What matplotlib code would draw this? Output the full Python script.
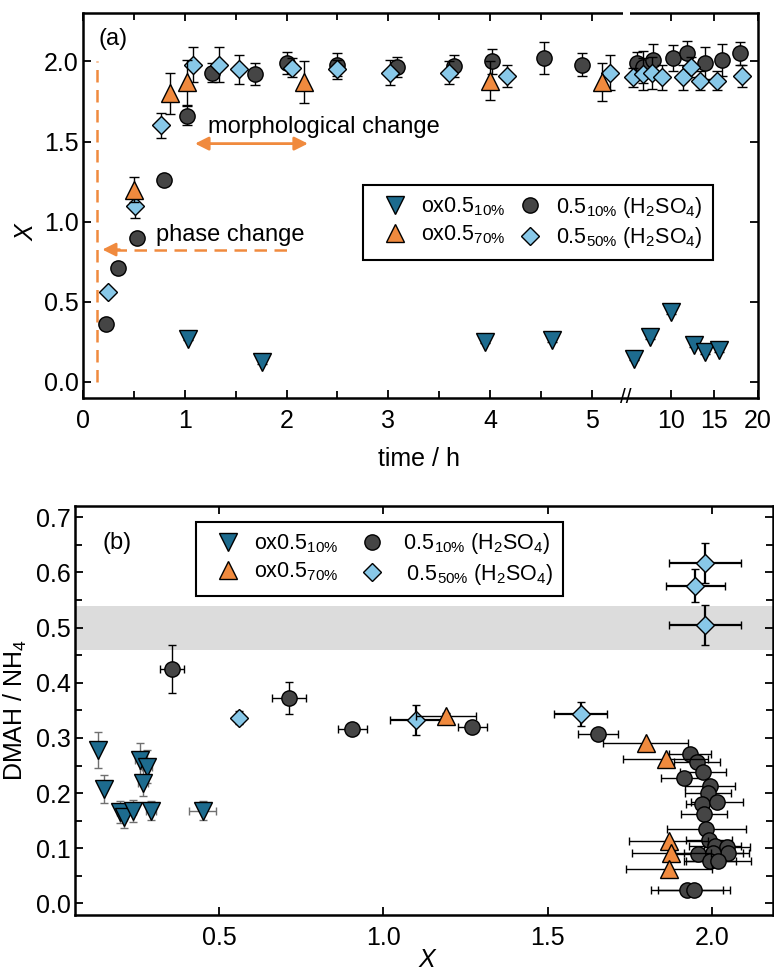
import numpy as np
import matplotlib
matplotlib.use('Agg')
import matplotlib.pyplot as plt
from matplotlib import transforms
from matplotlib.ticker import FixedLocator, MultipleLocator, FormatStrFormatter

plt.rcParams['font.family'] = ['Liberation Sans', 'DejaVu Sans']
plt.rcParams['mathtext.fontset'] = 'custom'
plt.rcParams['mathtext.rm'] = 'Liberation Sans'
plt.rcParams['mathtext.it'] = 'Liberation Sans:italic'
plt.rcParams['mathtext.default'] = 'regular'

# ---------------- colours ----------------
C_DN = '#1d6b8e'
C_OR = '#f08a3e'
C_CI = '#454545'
C_DI = '#88c8e8'

# ---------------- panel (a) data: time / h vs X ----------------
circ_t = [0.23, 0.34, 0.53, 0.80, 1.02, 1.27, 1.69, 2.00, 2.50, 3.08, 3.64, 4.02, 4.53, 4.90,
          6.16, 6.85, 7.93, 10.3, 11.84, 14.0, 15.95, 18.0]
circ_x = [0.36, 0.71, 0.90, 1.26, 1.66, 1.93, 1.92, 1.99, 1.98, 1.965, 1.97, 2.00, 2.02, 1.98,
          1.99, 1.965, 2.01, 2.02, 2.05, 1.99, 2.01, 2.05]
circ_e = [0, 0, 0, 0, 0.06, 0.06, 0.07, 0.07, 0.07, 0.06, 0.07, 0.08, 0.10, 0.07,
          0.07, 0.10, 0.10, 0.08, 0.08, 0.10, 0.10, 0.07]

dia_t = [0.25, 0.51, 0.77, 1.08, 1.34, 1.53, 2.05, 2.50, 3.02, 3.60, 4.17, 5.18,
         5.70, 6.85, 7.82, 8.97, 11.38, 12.3, 13.37, 15.3, 18.17]
dia_x = [0.56, 1.10, 1.60, 1.98, 1.98, 1.95, 1.96, 1.95, 1.93, 1.93, 1.91, 1.93,
         1.90, 1.92, 1.93, 1.90, 1.90, 1.965, 1.88, 1.88, 1.91]
dia_e = [0, 0.08, 0.08, 0.11, 0.11, 0.09, 0.06, 0.06, 0.08, 0.07, 0.07, 0.11,
         0.06, 0.10, 0.10, 0.08, 0.08, 0.06, 0.06, 0.06, 0.07]

up_t = [0.50, 0.85, 1.02, 2.17, 4.00, 5.10]
up_x = [1.20, 1.80, 1.87, 1.87, 1.88, 1.87]
up_e = [0.08, 0.13, 0.14, 0.13, 0.12, 0.12]

dn_t = [1.03, 1.76, 3.95, 4.61, 5.83, 7.62, 10.03, 12.7, 14.0, 15.6]
dn_x = [0.27, 0.125, 0.25, 0.26, 0.146, 0.28, 0.437, 0.229, 0.187, 0.198]
dn_e = [0.01] * 10

t_ticks = [0, 1, 2, 3, 4, 5, 10, 15, 20]
t_minor = [0.5, 1.5, 2.5, 3.5, 4.5]

# ---------------- panel (b) data: X vs DMAH/NH4 ----------------
bc_x = [0.358, 0.713, 0.906, 1.271, 1.654, 1.933, 1.954, 1.974, 1.916, 1.994, 1.989, 1.971, 2.015,
        1.975, 1.983, 1.99, 2.01, 2.045, 2.048, 1.959, 2.004, 1.994, 2.02, 1.925, 1.946]
bc_r = [0.425, 0.372, 0.317, 0.319, 0.308, 0.271, 0.257, 0.239, 0.228, 0.213, 0.20, 0.180, 0.183,
        0.163, 0.134, 0.115, 0.104, 0.102, 0.091, 0.089, 0.091, 0.077, 0.077, 0.025, 0.025]
bc_xe = [0.037, 0.053, 0.045, 0.045, 0.06, 0.065, 0.07, 0.07, 0.07, 0.075, 0.07, 0.05, 0.08,
         0.07, 0.12, 0.07, 0.08, 0.07, 0.065, 0.07, 0.09, 0.08, 0.10, 0.11, 0.11]
bc_re = [0.044, 0.029, 0.01, 0.004, 0.004] + [0] * 20

bd_x = [0.56, 1.099, 1.601, 1.979, 1.949, 1.979]
bd_r = [0.337, 0.332, 0.343, 0.617, 0.576, 0.505]
bd_xe = [0.01, 0.08, 0.08, 0.11, 0.09, 0.11]
bd_re = [0.012, 0.027, 0.022, 0.037, 0.03, 0.036]

bu_x = [1.191, 1.798, 1.859, 1.869, 1.876, 1.869]
bu_r = [0.340, 0.290, 0.261, 0.113, 0.092, 0.063]
bu_xe = [0.09, 0.13, 0.13, 0.12, 0.12, 0.13]
bu_re = [0.005, 0, 0, 0, 0, 0]

bn_x = [0.131, 0.151, 0.199, 0.211, 0.239, 0.26, 0.282, 0.27, 0.293, 0.45]
bn_r = [0.278, 0.207, 0.166, 0.157, 0.168, 0.26, 0.248, 0.219, 0.168, 0.168]
bn_xe = [0, 0, 0.01, 0.01, 0.01, 0.015, 0.015, 0.015, 0.015, 0.04]
bn_re = [0.033, 0.025, 0.02, 0.02, 0.02, 0.03, 0.03, 0.025, 0.017, 0.017]

labels = [r'ox0.5$_{10\%}$', r'ox0.5$_{70\%}$',
          r'0.5$_{10\%}$ (H$_2$SO$_4$)', r'0.5$_{50\%}$ (H$_2$SO$_4$)']
labels_b = [r'ox0.5$_{10\%}$', r'ox0.5$_{70\%}$',
            r' 0.5$_{10\%}$ (H$_2$SO$_4$)', r' $\,$0.5$_{50\%}$ (H$_2$SO$_4$)']

# ---------------- broken time scale ----------------
T_BRK = 5.33
U10 = 5.773
K = 0.0855


def fwd(t):
    t = np.asarray(t, dtype=float)
    return np.where(t <= T_BRK, t, U10 + K * (t - 10.0))


def inv(u):
    u = np.asarray(u, dtype=float)
    ujump = U10 + K * (T_BRK - 10.0)
    return np.where(u <= T_BRK, u, np.where(u < ujump, T_BRK, 10.0 + (u - U10) / K))


FS = 18
FS_ANN = 17
FS_LEG = 15.5
LW_SP = 1.8

fig = plt.figure(figsize=(7.74, 9.73), dpi=100)
ax1 = fig.add_axes([0.10724, 0.59096, 0.8717, 0.39538])
ax2 = fig.add_axes([0.0969, 0.05961, 0.90142, 0.42066])

mk = dict(markeredgecolor='black', markeredgewidth=1.0, linestyle='none')

# ---------------- panel (a) ----------------
ax1.set_xscale('function', functions=(fwd, inv))
c1 = ax1.errorbar(circ_t, circ_x, yerr=circ_e, fmt='o', ms=11, color=C_CI, ecolor='black',
                  elinewidth=1.0, capsize=3.5, capthick=1.0, zorder=3, **mk)
c2 = ax1.errorbar(dia_t, dia_x, yerr=dia_e, fmt='D', ms=9, color=C_DI, ecolor='black',
                  elinewidth=1.0, capsize=3.5, capthick=1.0, zorder=4, **mk)
c3 = ax1.errorbar(up_t, up_x, yerr=up_e, fmt='^', ms=13, color=C_OR, ecolor='black',
                  elinewidth=1.0, capsize=3.5, capthick=1.0, zorder=5, **mk)
c4 = ax1.errorbar(dn_t, dn_x, yerr=dn_e, fmt='v', ms=13, color=C_DN, ecolor='black',
                  elinewidth=1.0, capsize=3.5, capthick=1.0, zorder=5, **mk)

ax1.set_xlim(0, 20)
ax1.set_ylim(-0.1, 2.3)
ax1.xaxis.set_major_locator(FixedLocator(t_ticks))
ax1.xaxis.set_minor_locator(FixedLocator(t_minor))
ax1.set_xticklabels([str(v) for v in t_ticks])
ax1.yaxis.set_major_locator(MultipleLocator(0.5))
ax1.yaxis.set_major_formatter(FormatStrFormatter('%.1f'))
ax1.set_xlabel('time / h', fontsize=FS)
ax1.set_ylabel('X', fontsize=FS, style='italic')
ax1.xaxis.set_label_coords(0.498, -0.127)
ax1.xaxis.label.set_va('top')
ax1.yaxis.set_label_coords(-0.066, 0.43)

# annotations
ax1.plot([0.135, 0.135], [0.0, 2.0], linestyle=(0, (5, 3)), color=C_OR, lw=1.8, zorder=2)
ax1.plot([0.30, 2.05], [0.826, 0.826], linestyle=(0, (5, 3)), color=C_OR, lw=1.8, zorder=2)
ax1.annotate('', xy=(0.19, 0.826), xytext=(0.36, 0.826),
             arrowprops=dict(arrowstyle='-|>', color=C_OR, lw=1.8, mutation_scale=20,
                             shrinkA=0, shrinkB=0), zorder=2)
ax1.annotate('', xy=(1.10, 1.487), xytext=(2.21, 1.487),
             arrowprops=dict(arrowstyle='<|-|>', color=C_OR, lw=2.0, mutation_scale=20,
                             shrinkA=0, shrinkB=0), zorder=2)
ax1.text(1.23, 1.59, 'morphological change', fontsize=FS_ANN, va='center', ha='left')
ax1.text(0.72, 0.915, 'phase change', fontsize=FS_ANN, va='center', ha='left')
ax1.text(0.15, 2.14, '(a)', fontsize=FS_ANN, va='center', ha='left')

leg_kw = dict(ncol=2, loc='upper left', borderaxespad=0, fontsize=FS_LEG,
              frameon=True, fancybox=False, edgecolor='black', framealpha=1,
              handletextpad=0.17, columnspacing=0.15, borderpad=0.45, labelspacing=0.25,
              handlelength=2.07)
leg1 = ax1.legend([c4[0], c3[0], c1[0], c2[0]], labels, bbox_to_anchor=(0.4146, 0.5537), **leg_kw)
leg1.get_frame().set_linewidth(1.5)

# break marks
bt = transforms.blended_transform_factory(ax1.transData, ax1.transAxes)
ax1.plot([5.30, 5.335], [1, 1], color='white', lw=4, transform=bt, clip_on=False, zorder=10,
         solid_capstyle='butt')
ax1.text(T_BRK, 0.0, '//', transform=bt, ha='center', va='center', fontsize=15,
         clip_on=False, zorder=11)

# ---------------- panel (b) ----------------
ax2.axhspan(0.46, 0.54, color='#dcdcdc', zorder=0, lw=0)
d1 = ax2.errorbar(bc_x, bc_r, xerr=bc_xe, yerr=bc_re, fmt='o', ms=11, color=C_CI, ecolor='black',
                  elinewidth=1.0, capsize=3, capthick=1.0, zorder=3, **mk)
d2 = ax2.errorbar(bd_x, bd_r, xerr=bd_xe, yerr=bd_re, fmt='D', ms=9, color=C_DI, ecolor='black',
                  elinewidth=1.6, capsize=3, capthick=1.6, zorder=4, **mk)
d3 = ax2.errorbar(bu_x, bu_r, xerr=bu_xe, yerr=bu_re, fmt='^', ms=13, color=C_OR, ecolor='black',
                  elinewidth=1.0, capsize=3, capthick=1.0, zorder=5, **mk)
d4 = ax2.errorbar(bn_x, bn_r, xerr=bn_xe, yerr=bn_re, fmt='v', ms=13, color=C_DN, ecolor='#707070',
                  elinewidth=1.0, capsize=3, capthick=1.0, zorder=5, **mk)

ax2.set_xlim(0.062, 2.185)
ax2.set_ylim(-0.021, 0.721)
ax2.xaxis.set_major_locator(MultipleLocator(0.5))
ax2.xaxis.set_major_formatter(FormatStrFormatter('%.1f'))
ax2.yaxis.set_major_locator(MultipleLocator(0.1))
ax2.yaxis.set_minor_locator(MultipleLocator(0.05))
ax2.yaxis.set_major_formatter(FormatStrFormatter('%.1f'))
ax2.set_xlabel('X', fontsize=FS, style='italic')
ax2.set_ylabel('DMAH / NH$_4$', fontsize=FS)
ax2.xaxis.set_label_coords(0.504, -0.080)
ax2.xaxis.label.set_va('top')
ax2.yaxis.set_label_coords(-0.066, 0.5)
ax2.text(0.147, 0.653, '(b)', fontsize=FS_ANN, va='center', ha='left')

leg2 = ax2.legend([d4[0], d3[0], d1[0], d2[0]], labels_b, bbox_to_anchor=(0.174, 0.961),
                  **dict(leg_kw, columnspacing=0.5))
leg2.get_frame().set_linewidth(1.5)

for ax in (ax1, ax2):
    for s in ax.spines.values():
        s.set_linewidth(LW_SP)
    ax.tick_params(which='both', direction='in', top=True, right=True, labelsize=FS,
                   width=1.3)
    ax.tick_params(which='major', length=6)
    ax.tick_params(which='minor', length=5)
    ax.tick_params(axis='x', pad=8)
    ax.tick_params(axis='y', pad=3)

fig.savefig('out.png', dpi=100)
